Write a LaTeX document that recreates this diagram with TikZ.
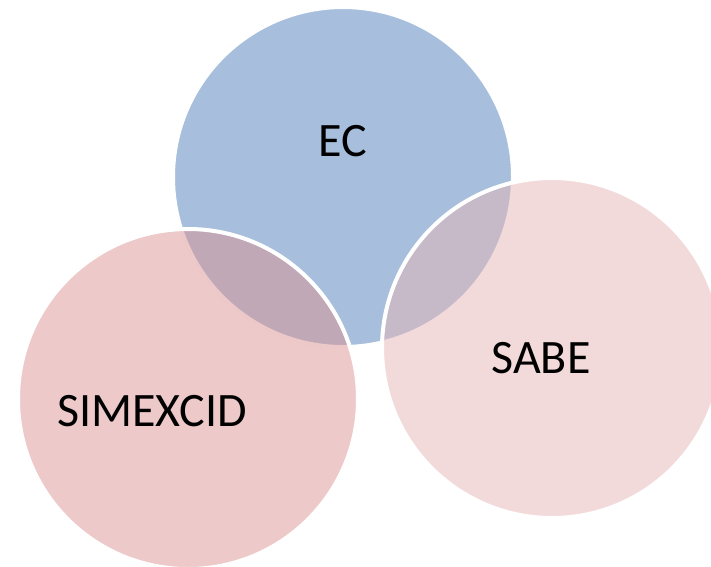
\documentclass[tikz,border=0pt]{standalone}
\usepackage{fontspec}
\setmainfont{Carlito}
\usetikzlibrary{positioning}
\definecolor{ECB}{HTML}{A7BFDC}
\definecolor{SIM}{HTML}{DB9393}
\definecolor{SAB}{HTML}{E6B6B6}
\tikzset{
  CIR/.style={% Style for the big circles
      circle,
      minimum size=340pt,
      inner sep=0pt,
      draw=white,
      line width=4pt,
  },
  TXT/.style={% Style for the labels
      font=\fontsize{48}{58}\selectfont,
      text=black,
      inner sep=0pt,
  },
}
\begin{document}
\begin{tikzpicture}[x=1pt, y=-1pt]
  \useasboundingbox (0,0) rectangle (711,566);
  \clip (0,0) rectangle (711,566);
  % circles
  \node[CIR, fill=ECB] (ec) at (343,177) {};
  \node[CIR, fill=SIM, fill opacity=.5] (simexcid) at (188,399) {};
  \node[CIR, fill=SAB, fill opacity=.5] (sabe) at (552,348) {};
  % labels
  \node[TXT] (ectext) at (343,141) {EC};
  \node[TXT] (simexcidtext) at (152,411) {SIMEXCID};
  \node[TXT] (sabetext) at (541,358) {SABE};
\end{tikzpicture}
\end{document}
